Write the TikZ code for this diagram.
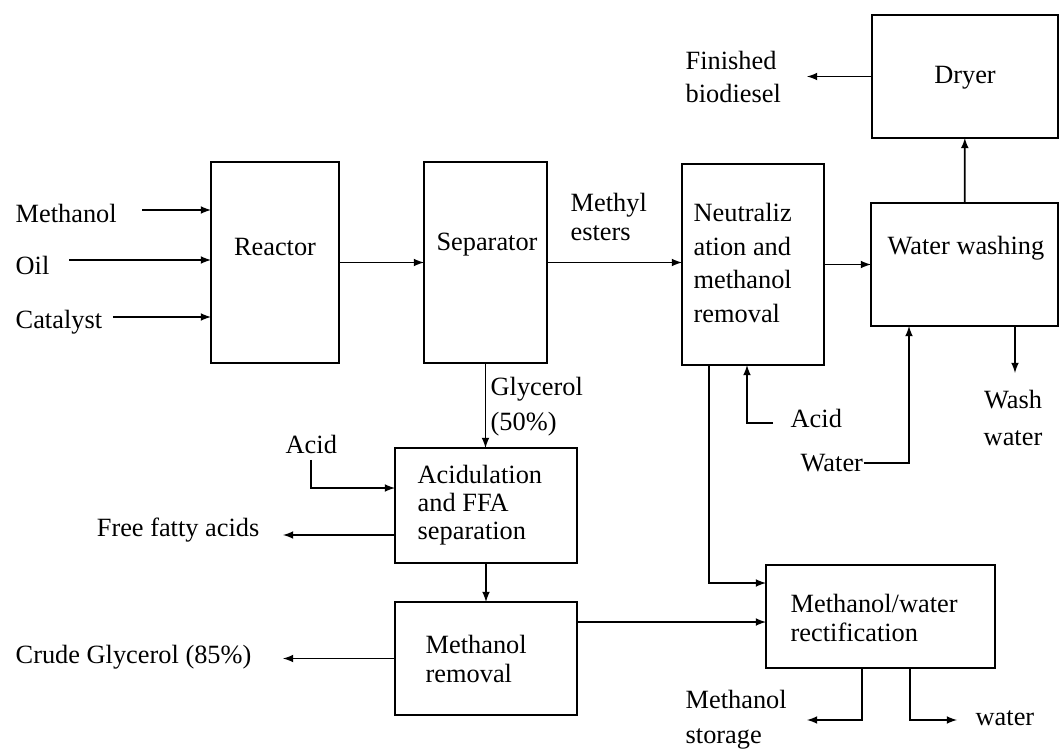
\documentclass[tikz,border=0pt]{standalone}
\usepackage{fontspec}
\setmainfont{Liberation Serif}
\begin{document}
\begin{tikzpicture}[x=0.02cm,y=-0.02cm,>=latex,thick,
  box/.style={draw,inner sep=0pt,outer sep=0pt},
  txt/.style={inner sep=0pt,align=left,font=\fontsize{15}{#1}\selectfont},
  txt/.default=19,
  flow/.style={->,line width=1pt}]
\useasboundingbox (0,0) rectangle (1062,754);
% process boxes
\node[box,minimum width=2.56cm,minimum height=4.02cm] (reactor) at (275,262.5){};
\node[box,minimum width=2.46cm,minimum height=4.02cm] (separator) at (485.5,262.5){};
\node[box,minimum width=2.84cm,minimum height=4.02cm] (neutral) at (753,264.5){};
\node[box,minimum width=3.74cm,minimum height=2.46cm] (washing) at (964.5,264.5){};
\node[box,minimum width=3.72cm,minimum height=2.46cm] (dryer) at (965,76.5){};
\node[box,minimum width=3.64cm,minimum height=2.30cm] (acidbox) at (486,505.5){};
\node[box,minimum width=3.64cm,minimum height=2.26cm] (mremoval) at (486,658.5){};
\node[box,minimum width=4.58cm,minimum height=2.06cm] (rectif) at (880.5,616.5){};
% box texts
\node[txt] (reactortxt) at (275,247){Reactor};
\node[txt] (septxt) at (487,245){Separator};
\node[txt,anchor=west] (neutxt) at (693,263){Neutraliz\\ation and\\methanol\\removal};
\node[txt] (washtxt) at (966,248){Water washing};
\node[txt] (dryertxt) at (965,78){Dryer};
\node[txt=16,anchor=west] (acidtxt) at (417,505){Acidulation\\and FFA\\separation};
\node[txt=16,anchor=west] (mremtxt) at (425,659){Methanol\\removal};
\node[txt=17,anchor=west] (recttxt) at (790,618){Methanol/water\\rectification};
% stream labels
\node[txt,anchor=west] (methanol) at (15,213){Methanol};
\node[txt,anchor=west] (oil) at (15,265){Oil};
\node[txt,anchor=west] (catalyst) at (15,322){Catalyst};
\node[txt=17,anchor=west] (esters) at (570,217){Methyl\\esters};
\node[txt,anchor=west] (finished) at (685,77){Finished\\biodiesel};
\node[txt=21,align=center] (washwater) at (1013,418){Wash\\water};
\node[txt,anchor=west] (acidn) at (790,418){Acid};
\node[txt,anchor=west] (waterin) at (800,463){Water};
\node[txt=20,anchor=west] (glycerol) at (490,407){Glycerol\\(50\%)};
\node[txt,anchor=west] (acida) at (285,444){Acid};
\node[txt,anchor=east] (ffa) at (260,530){Free fatty acids};
\node[txt,anchor=west] (crude) at (15,657){Crude Glycerol (85\%)};
\node[txt=20,anchor=west] (mstorage) at (685,720){Methanol\\storage};
\node[txt,anchor=west] (waterout) at (975,718){water};
% feeds
\draw[flow] ([xshift=.5cm,yshift=.06cm]methanol.east) -- ([yshift=.06cm]methanol.east -| reactor.west);
\draw[flow] ([xshift=.38cm,yshift=.1cm]oil.east) -- ([yshift=.1cm]oil.east -| reactor.west);
\draw[flow] ([xshift=.2cm,yshift=.1cm]catalyst.east) -- ([yshift=.1cm]catalyst.east -| reactor.west);
% main line
\draw[flow] (reactor) -- (separator);
\draw[flow] (separator) -- (separator -| neutral.west);
\draw[flow] (neutral) -- (neutral -| washing.west);
\draw[flow] (washing) -- (dryer);
\draw[flow] (dryer.west) -- ++(-65,0);
\draw[flow] ([xshift=1.01cm]washing.south) -- ++(0,47);
\draw[flow] ([xshift=-.34cm,yshift=-.1cm]acidn.west) -| ([xshift=-.12cm]neutral.south);
\draw[flow] (waterin.east) -| ([xshift=-1.11cm]washing.south);
\draw[flow] ([xshift=-.88cm]neutral.south) |- ([yshift=.67cm]rectif.west);
% glycerol line
\draw[flow] (separator.south) -- (separator.south |- acidbox.north);
\draw[flow] ([yshift=-.12cm]acida.south) |- ([yshift=.35cm]acidbox.west);
\draw[flow] ([yshift=-.59cm]acidbox.west) -- ++(-112,0);
\draw[flow] (acidbox.south) -- (acidbox.south |- mremoval.north);
\draw[flow] (mremoval.west) -- ++(-112,0);
\draw[flow] ([yshift=.73cm]mremoval.east) coordinate (m1) -- (m1 -| rectif.west);
% rectification products
\draw[flow] ([xshift=-.37cm]rectif.south) -- ++(0,52) -- ++(-55,0);
\draw[flow] ([xshift=.59cm]rectif.south) -- ++(0,52) -- ++(47,0);
\end{tikzpicture}
\end{document}
